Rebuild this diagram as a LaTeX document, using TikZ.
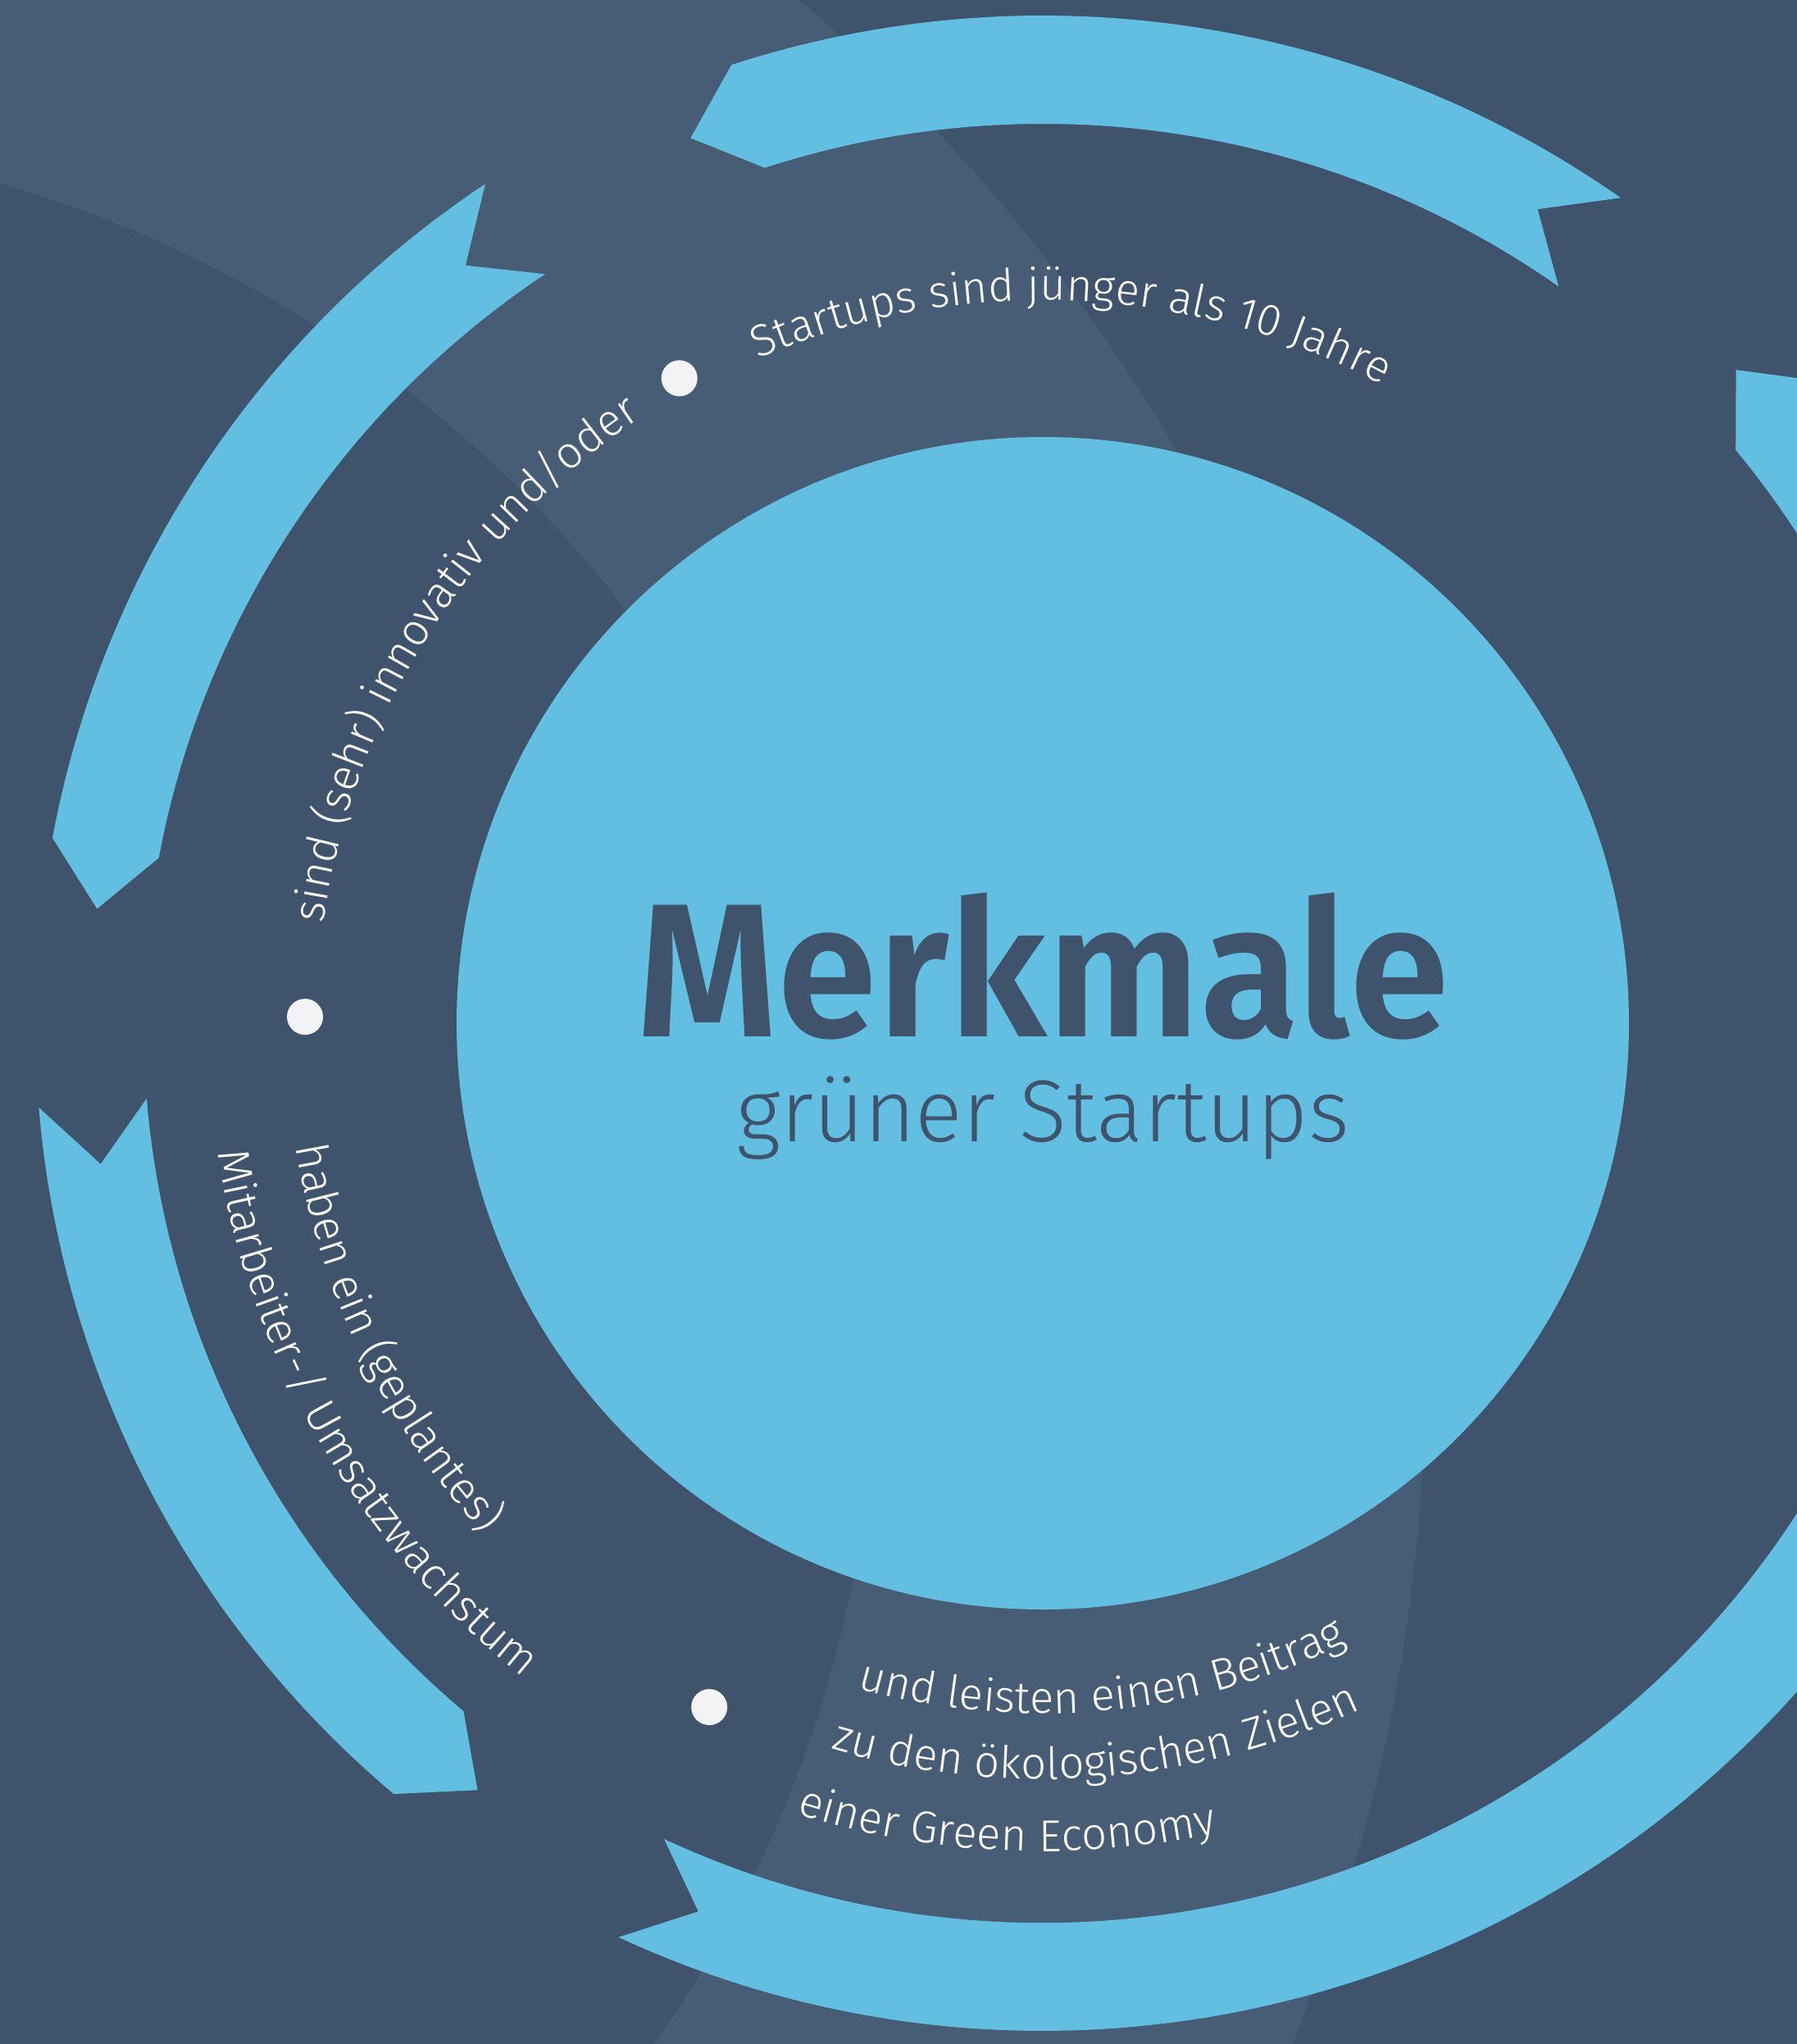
\documentclass[tikz,border=0pt]{standalone}
\usepackage{fontspec}
\setmainfont{Fira Sans}
\newfontfamily\lightfont{Fira Sans Light}
\newfontfamily\heavyfont{Fira Sans SemiBold}[FakeStretch = 0.95]
\usetikzlibrary{decorations.text}
\definecolor{bgDark}{HTML}{3F546C}
\definecolor{bgLight}{HTML}{475D75}
\definecolor{ribbonBlue}{HTML}{62BFE1}
\definecolor{dotWhite}{HTML}{F3F3F6}

\begin{document}
\begin{tikzpicture}
	\tikzstyle{ribbonStyle} = [fill = ribbonBlue]
	\tikzstyle{dotStyle} = [shape = circle, minimum size = 0.44cm, inner sep = 0pt, fill = dotWhite]
	\tikzstyle{coreStyle} = [shape = circle, minimum size = 14.3cm, inner sep = 0pt, fill = ribbonBlue]
	\tikzstyle{arcText} = [decorate, decoration = {text along path, text align = left}]
	\useasboundingbox (-12.72, -12.45) rectangle (9.20, 12.48);
	\clip (-12.72, -12.45) rectangle (9.20, 12.48);
	\fill[bgDark] (-12.72, -12.45) rectangle (9.20, 12.48);
	\fill[bgLight, even odd rule] (-17.25, -4.15) circle (21.92) (-16.79, -3.94) circle (14.75);
	\foreach \a/\b in {55/108, 123.6/169.4, 184.8/229.9, 245.1/399.6}
		\fill[ribbonStyle] (\a:10.97) arc[start angle = \a, end angle = \b, radius = 10.97] -- (\b+3.7:11.62)
			-- (\b:12.29) arc[start angle = \b, end angle = \a, radius = 12.29] -- (\a+3.7:11.62) -- cycle;
	\node[coreStyle] (core) at (0, 0) {};
	\node[anchor = base, text = bgDark, font = \heavyfont\fontsize{66}{70}\selectfont] (title) at (0, -0.16) {Merkmale};
	\node[anchor = base, text = bgDark, font = \lightfont\fontsize{30.5}{34}\selectfont] (subtitle) at (0, -1.445) {grüner Startups};
	\node[dotStyle] (d1) at (119.4:9.03) {};
	\node[dotStyle] (d2) at (179.5:9.0) {};
	\node[dotStyle] (d3) at (244:9.28) {};
	\path[arcText, decoration = {text = {|\lightfont\fontsize{15.5}{19}\selectfont\color{white}|Startups sind jünger als 10 Jahre}}]
		(113.2:8.82) arc[start angle = 113.2, end angle = 40, radius = 8.82];
	\path[arcText, decoration = {text = {|\lightfont\fontsize{15.5}{19}\selectfont\color{white}|sind (sehr) innovativ und/oder}}]
		(172.1:8.86) arc[start angle = 172.1, end angle = 100, radius = 8.86];
	\path[arcText, decoration = {text = {|\lightfont\fontsize{15.5}{19}\selectfont\color{white}|haben ein (geplantes)}}]
		(189.4:9.24) arc[start angle = 189.4, end angle = 250, radius = 9.24];
	\path[arcText, decoration = {text = {|\lightfont\fontsize{15.5}{19}\selectfont\color{white}|Mitarbeiter-/ Umsatzwachstum}}]
		(188.9:10.19) arc[start angle = 188.9, end angle = 250, radius = 10.19];
	\path[arcText, decoration = {text = {|\lightfont\fontsize{15.5}{19}\selectfont\color{white}|und leisten einen Beitrag}}]
		(254.4:8.42) arc[start angle = 254.4, end angle = 320, radius = 8.42];
	\path[arcText, decoration = {text = {|\lightfont\fontsize{15.5}{19}\selectfont\color{white}|zu den ökologischen Zielen}}]
		(253.7:9.22) arc[start angle = 253.7, end angle = 320, radius = 9.22];
	\path[arcText, decoration = {text = {|\lightfont\fontsize{15.5}{19}\selectfont\color{white}|einer Green Economy}}]
		(252.7:10.1) arc[start angle = 252.7, end angle = 320, radius = 10.1];
\end{tikzpicture}
\end{document}
